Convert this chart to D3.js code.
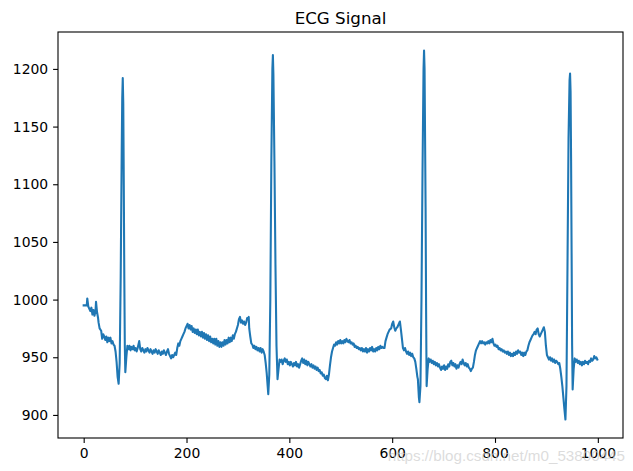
<!DOCTYPE html>
<html><head><meta charset="utf-8">
<script src="https://cdn.jsdelivr.net/npm/d3@7"></script>
<style>body{margin:0;background:#fff} svg{display:block}</style>
</head><body>
<script>
const chartTitle = "ECG Signal";
const watermark = "https://blog.csdn.net/m0_53800445";
const xTickValues = [0, 200, 400, 600, 800, 1000];
const yTickValues = [900, 950, 1000, 1050, 1100, 1150, 1200];
const sampleCount = 1000;
// [sample index, amplitude]
const ecgSamples = [
[0,995],[3,995],[6,995],[7,1001],[9,994],[11,992],[13,990],[15,993],[17,987],[19,991],[21,986],[23,990],[24,998],[26,989],[28,984],[29,980],
[31,975],[34,973],[36,966],[38,970],[40,968],[42,965],[44,968],[46,963],[48,967],[50,964],[52,967],[54,962],[56,964],[58,961],[60,960],
[62,955],[64,946],[66,933],[68,927],[70,945],[72,1020],[74,1130],[75,1175],[76,1192],[77,1170],[78,1100],[79,1020],[80,960],[81,937],
[83,950],[85,960],[87,957],[89,960],[91,956],[93,959],[95,957],[97,960],[99,956],[101,958],[103,955],[105,958],[107,962],[108,964],
[110,957],[112,955],[114,958],[116,956],[118,954],[120,957],[122,955],[124,958],[126,956],[128,954],[130,957],[132,955],[134,953],
[136,956],[138,954],[140,957],[142,955],[144,953],[146,956],[148,954],[150,952],[152,955],[154,953],[156,956],[158,954],[160,952],
[162,955],[164,957],[166,953],[168,951],[170,949],[172,952],[174,950],[176,952],[178,954],[180,952],[182,958],[184,962],[186,960],
[188,964],[190,966],[192,968],[194,970],[196,972],[198,975],[200,977],[202,979],[204,975],[206,978],[208,974],[210,977],[212,972],
[214,975],[216,971],[218,974],[220,970],[222,974],[224,969],[226,972],[228,968],[230,972],[232,967],[234,971],[236,966],[238,970],
[240,965],[242,969],[244,964],[246,968],[248,963],[250,966],[252,962],[254,966],[256,961],[258,966],[260,960],[262,964],[264,959],
[266,963],[268,959],[270,963],[272,960],[274,965],[276,961],[278,965],[280,962],[282,967],[284,963],[286,967],[288,964],[290,969],
[292,966],[294,970],[296,972],[298,975],[300,978],[302,983],[304,985],[306,980],[308,982],[310,979],[312,981],[314,978],[316,980],
[318,984],[320,983],[321,985],[322,975],[324,968],[326,962],[328,961],[330,958],[332,960],[334,957],[336,959],[338,956],[340,958],
[342,955],[344,958],[346,954],[348,957],[350,955],[352,952],[354,945],[356,936],[358,924],[359,918],[361,935],[363,1000],[365,1120],
[367,1200],[368,1212],[369,1195],[371,1120],[373,1030],[375,960],[377,931],[379,940],[381,948],[383,946],[385,948],[387,944],[389,947],
[391,949],[393,946],[395,948],[397,944],[399,946],[401,943],[403,946],[405,944],[407,942],[409,945],[411,943],[413,946],[415,942],
[417,944],[419,941],[421,944],[423,947],[425,949],[427,945],[429,948],[431,944],[433,947],[435,943],[437,946],[439,944],[441,942],
[443,944],[445,941],[447,943],[449,940],[451,942],[453,939],[455,941],[457,938],[459,939],[461,936],[463,937],[465,934],[467,935],
[469,932],[471,931],[473,934],[475,930],[477,935],[479,943],[481,950],[483,955],[485,958],[487,961],[489,960],[491,963],[493,961],
[495,964],[497,962],[499,965],[501,962],[503,964],[505,962],[507,965],[509,963],[511,966],[513,964],[515,963],[517,965],[519,962],
[521,963],[523,961],[525,962],[527,959],[529,960],[531,958],[533,959],[535,957],[537,958],[539,956],[541,958],[543,955],[545,957],
[547,955],[549,958],[551,954],[553,957],[555,955],[557,958],[559,956],[561,959],[563,955],[565,957],[567,955],[569,958],[571,956],
[573,959],[575,957],[577,960],[579,958],[581,959],[583,958],[585,958],[587,964],[589,967],[591,970],[593,972],[595,974],[598,975],
[600,979],[602,981],[604,976],[606,973],[608,975],[610,976],[612,978],[615,981],[617,974],[619,966],[621,958],[623,956],[625,958],
[627,955],[629,953],[631,955],[633,952],[635,954],[637,951],[639,953],[641,950],[643,949],[645,946],[647,940],[649,933],[650,931],
[652,915],[653,911],[655,925],[657,1000],[659,1110],[661,1200],[662,1216],[663,1200],[665,1080],[666,990],[667,925],[669,940],[671,949],
[673,946],[675,948],[677,945],[679,947],[681,944],[683,946],[685,943],[687,945],[689,942],[691,944],[693,941],[695,939],[697,942],
[699,940],[701,943],[703,939],[705,942],[707,940],[709,944],[711,942],[713,946],[715,947],[717,943],[719,945],[721,942],[723,944],
[725,940],[727,943],[729,941],[731,944],[733,946],[735,944],[737,948],[739,945],[741,943],[743,945],[745,942],[747,944],[749,941],
[751,940],[753,938],[755,940],[757,941],[759,946],[761,952],[763,956],[765,958],[767,960],[769,962],[771,964],[773,962],[775,964],
[777,962],[779,963],[781,961],[783,963],[785,962],[787,964],[789,962],[791,965],[793,963],[795,966],[797,962],[799,960],[801,961],
[803,959],[805,960],[807,957],[809,958],[811,956],[813,957],[815,955],[817,956],[819,954],[821,955],[823,953],[825,955],[827,952],
[829,954],[831,951],[833,953],[835,951],[837,954],[839,952],[841,955],[843,953],[845,956],[847,954],[849,955],[851,952],[853,954],
[855,951],[857,954],[859,952],[861,955],[863,956],[865,960],[867,963],[869,965],[871,967],[873,969],[875,970],[877,972],[879,970],
[881,974],[883,975],[885,970],[887,968],[889,970],[891,972],[893,974],[895,976],[897,972],[899,960],[901,952],[903,950],[905,948],
[907,950],[909,947],[911,949],[913,946],[915,948],[917,945],[919,947],[921,946],[923,944],[925,945],[927,940],[929,933],[931,925],
[933,915],[935,905],[937,896],[939,925],[941,1030],[943,1140],[945,1190],[946,1196],[947,1180],[948,1120],[949,1040],[950,960],
[951,922],[953,940],[955,949],[957,946],[959,948],[961,945],[963,947],[965,944],[967,946],[969,943],[971,946],[973,944],[975,947],
[977,945],[979,946],[981,944],[983,947],[985,946],[987,949],[989,947],[991,948],[993,951],[995,949],[997,950],[999,948]
];

const W = 633, H = 471;
const plot = {left: 58, right: 623, top: 32, bottom: 438};
const fontFamily = "'DejaVu Sans', sans-serif";

const svg = d3.select("body").append("svg").attr("width", W).attr("height", H);
svg.append("rect").attr("width", W).attr("height", H).attr("fill", "#fff");

const xSpan = sampleCount - 1;
const x = d3.scaleLinear()
  .domain([-0.05 * xSpan, xSpan + 0.05 * xSpan])
  .range([plot.left, plot.right]);
const yExt = d3.extent(ecgSamples, d => d[1]);
const ySpan = yExt[1] - yExt[0];
const y = d3.scaleLinear()
  .domain([yExt[0] - 0.05 * ySpan, yExt[1] + 0.05 * ySpan])
  .range([plot.bottom, plot.top]);

const line = d3.line().x(d => x(d[0])).y(d => y(d[1]));
svg.append("path").datum(ecgSamples)
  .attr("d", line).attr("fill", "none")
  .attr("stroke", "#1f77b4").attr("stroke-width", 2.08)
  .attr("stroke-linejoin", "round").attr("stroke-linecap", "square");

const tickLen = 4.9, tickPad = 4.9;
const gx = svg.append("g").attr("transform", `translate(0,${plot.bottom})`)
  .call(d3.axisBottom(x).tickValues(xTickValues).tickFormat(d3.format("d"))
    .tickSize(tickLen).tickPadding(tickPad));
const gy = svg.append("g").attr("transform", `translate(${plot.left},0)`)
  .call(d3.axisLeft(y).tickValues(yTickValues).tickFormat(d3.format("d"))
    .tickSize(tickLen).tickPadding(tickPad));
[gx, gy].forEach(g => {
  g.select(".domain").remove();
  g.selectAll(".tick line").attr("stroke", "#000").attr("stroke-width", 1.1);
  g.selectAll("text").attr("fill", "#000").style("font-family", fontFamily).style("font-size", "13.9px");
  g.attr("font-family", null).attr("font-size", null);
});

svg.append("rect")
  .attr("x", plot.left).attr("y", plot.top)
  .attr("width", plot.right - plot.left).attr("height", plot.bottom - plot.top)
  .attr("fill", "none").attr("stroke", "#000").attr("stroke-width", 1.1);

svg.append("text").text(chartTitle)
  .attr("x", (plot.left + plot.right) / 2).attr("y", 23.7)
  .attr("text-anchor", "middle")
  .style("font-family", fontFamily).style("font-size", "16.7px").attr("fill", "#000");

svg.append("text").text(watermark)
  .attr("x", 625).attr("y", 461).attr("text-anchor", "end")
  .style("font-family", "'Liberation Sans', Arial, sans-serif").style("font-size", "15.2px")
  .attr("fill", "rgba(205,205,205,0.7)");
</script>
</body></html>
